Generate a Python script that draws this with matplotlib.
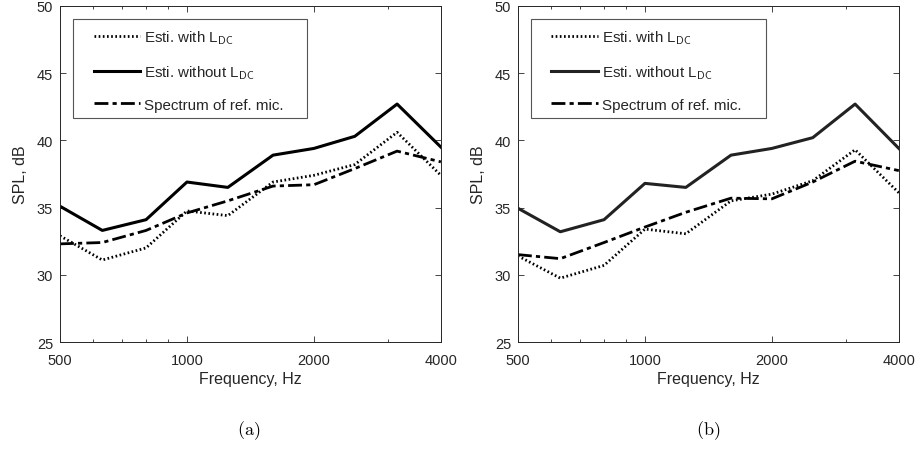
import matplotlib
matplotlib.use("Agg")
import matplotlib.pyplot as plt
from matplotlib.patches import Rectangle

plt.rcParams['font.family'] = ['Liberation Sans', 'DejaVu Sans']
plt.rcParams['mathtext.fontset'] = 'cm'

# third-octave band centre frequencies
freqs = [500, 630, 800, 1000, 1250, 1600, 2000, 2500, 3150, 4000]

# panel (a)
a_with = [32.9, 31.1, 32.0, 34.75, 34.4, 36.9, 37.4, 38.2, 40.6, 37.4]
a_without = [35.1, 33.3, 34.1, 36.9, 36.5, 38.9, 39.4, 40.3, 42.7, 39.5]
a_ref = [32.3, 32.4, 33.3, 34.6, 35.5, 36.6, 36.7, 37.9, 39.2, 38.4]

# panel (b)
b_with = [31.4, 29.75, 30.7, 33.4, 33.05, 35.5, 36.0, 37.0, 39.3, 36.1]
b_without = [34.95, 33.2, 34.1, 36.8, 36.5, 38.9, 39.4, 40.2, 42.7, 39.4]
b_ref = [31.5, 31.2, 32.4, 33.55, 34.65, 35.7, 35.65, 36.9, 38.45, 37.75]

labels = ['Esti. with L$_{\\mathsf{DC}}$',
          'Esti. without L$_{\\mathsf{DC}}$',
          'Spectrum of ref. mic.']
major_ticks = [500, 1000, 2000, 4000]
minor_ticks = [600, 700, 800, 900, 3000]
yticks = [25, 30, 35, 40, 45, 50]

fig = plt.figure(figsize=(9.2, 4.56), dpi=100)
ax_a = fig.add_axes([0.0652, 0.2478, 0.414, 0.737])
ax_b = fig.add_axes([0.563, 0.2478, 0.414, 0.737])

txt = '#262626'


def draw_panel(ax, est_with, est_without, ref, solid_color, box_w):
    ax.plot(freqs, est_with, color='k', lw=2, linestyle=(0, (0.6, 0.9)))
    ax.plot(freqs, est_without, color=solid_color, lw=2.2, linestyle='-')
    ax.plot(freqs, ref, color='k', lw=2, linestyle=(0, (5, 1.5, 1.5, 1.5)))
    ax.set_xscale('log')
    ax.set_xlim(500, 4000)
    ax.set_ylim(25, 50)
    ax.set_xticks(major_ticks)
    ax.set_xticklabels([str(t) for t in major_ticks])
    ax.set_xticks(minor_ticks, minor=True)
    ax.set_xticklabels([], minor=True)
    ax.set_yticks(yticks)
    ax.tick_params(which='both', direction='in', top=True, right=True,
                   labelsize=10.5, colors=txt, length=4, width=0.6)
    ax.tick_params(axis='x', which='major', pad=8)
    ax.tick_params(axis='y', which='major', pad=5)
    ax.tick_params(which='minor', length=2.5)
    for s in ax.spines.values():
        s.set_color(txt)
        s.set_linewidth(0.7)
    ax.set_xlabel('Frequency, Hz', fontsize=11.5, color=txt, labelpad=3)
    ax.set_ylabel('SPL, dB', fontsize=11.5, color=txt, labelpad=6)

    # legend box drawn separately (wider side padding than matplotlib gives)
    ax.add_patch(Rectangle((0.034, 0.667), box_w, 0.294, transform=ax.transAxes,
                           facecolor='white', edgecolor='#555555', lw=0.8,
                           zorder=4))
    leg = ax.legend(labels, loc='upper left', bbox_to_anchor=(0.088, 0.933),
                    fontsize=10.9, handlelength=3.1, handletextpad=0.25,
                    labelspacing=1.12, borderpad=0, frameon=False,
                    borderaxespad=0)
    leg.set_zorder(5)
    for t in leg.get_texts():
        t.set_color(txt)


draw_panel(ax_a, a_with, a_without, a_ref, 'k', 0.614)
draw_panel(ax_b, b_with, b_without, b_ref, '#222222', 0.617)

fig.text(0.27, 0.055, r'$\mathrm{(a)}$', ha='center', va='center', fontsize=13)
fig.text(0.77, 0.055, r'$\mathrm{(b)}$', ha='center', va='center', fontsize=13)

fig.savefig('out.png', dpi=100)
